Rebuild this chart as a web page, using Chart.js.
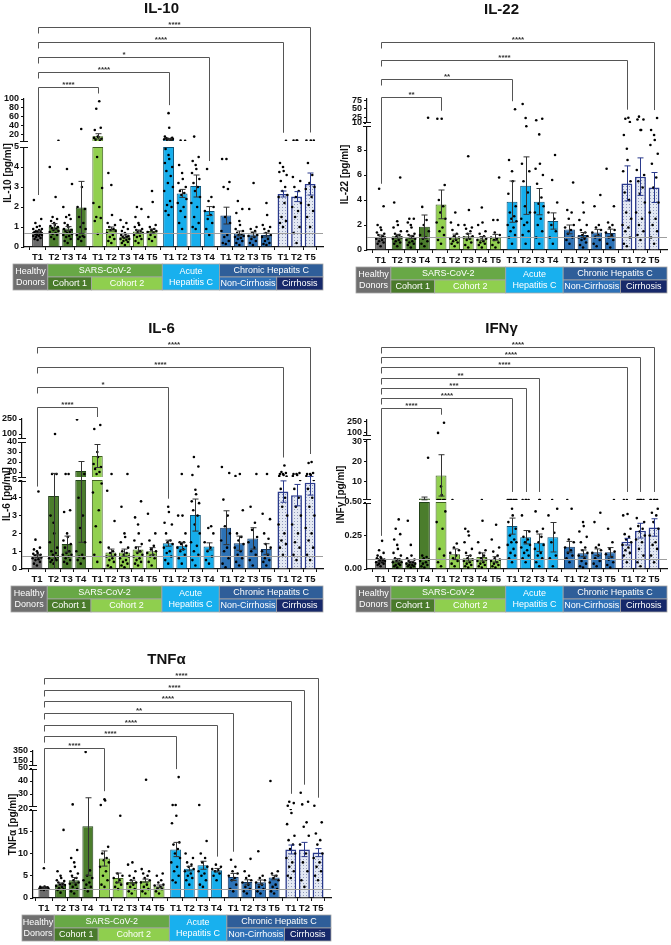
<!DOCTYPE html>
<html>
<head>
<meta charset="utf-8">
<script src="https://cdn.jsdelivr.net/npm/chart.js@4.4.1/dist/chart.umd.min.js"></script>
<style>
  html, body { margin: 0; padding: 0; background: #fff; }
  #page { position: relative; width: 671px; height: 945px; overflow: hidden; }
  #page canvas { position: absolute; }
</style>
</head>
<body>
<div id="page"></div>
<script>
// categories shared by all five panels
const TICK_LABELS = ['T1','T2','T3','T4','T1','T2','T3','T4','T5','T1','T2','T3','T4','T1','T2','T3','T5','T1','T2','T5'];
const GROUP_OF = [0,1,1,1,2,2,2,2,2,3,3,3,3,4,4,4,4,5,5,5];
const BOX_TEXT = {
  hd: ['Healthy', 'Donors'], sars: 'SARS-CoV-2', c1: 'Cohort 1', c2: 'Cohort 2',
  ahc: ['Acute', 'Hepatitis C'], chc: 'Chronic Hepatits C', nonc: 'Non-Cirrhosis', cirr: 'Cirrhosis'
};

// ---- IL-10 ----
const IL10_MEAN = [0.76,1.02,0.92,1.98,15.5,0.9,0.52,0.77,0.8,8.5,2.68,3.05,1.8,1.57,0.68,0.63,0.6,2.65,2.52,3.15];
const IL10_SEM = [0.06,0.15,0.1,1.3,6,0.1,0.07,0.08,0.1,1.5,0.2,0.55,0.22,0.42,0.12,0.12,0.1,0.15,0.25,0.55];
const IL10_DOTS = [
  [0.35,0.4,0.45,0.5,0.55,0.55,0.6,0.6,0.65,0.65,0.7,0.7,0.7,0.75,0.75,0.8,0.8,0.85,0.9,0.9,1.0,1.05,1.2,1.4,2.35],
  [0.4,0.5,0.6,0.65,0.7,0.75,0.8,0.85,0.9,0.95,1.0,1.05,1.1,1.2,1.3,1.4,1.5,2.5,4.0,5.6],
  [0.2,0.3,0.4,0.5,0.55,0.6,0.65,0.7,0.75,0.8,0.85,0.9,1.0,1.1,1.2,1.4,1.5,1.6,2.0,3.15,3.9],
  [0.3,0.4,0.5,0.5,0.55,0.6,0.9,1.0,1.2,1.5,1.9,2.0,3.0,32],
  [0.65,1.3,1.45,1.5,2.0,2.2,2.95,4.5,6,8,10,12,14,15,30,35,78,95],
  [0.2,0.3,0.4,0.5,0.6,0.7,0.8,0.85,0.9,1.0,1.1,1.2,1.6,3.1,3.7],
  [0.1,0.2,0.25,0.3,0.35,0.4,0.4,0.45,0.5,0.5,0.55,0.6,0.65,0.7,0.8,0.9,1.0,1.2,1.35],
  [0.2,0.3,0.4,0.5,0.55,0.6,0.7,0.75,0.8,0.85,0.9,1.0,1.1,1.2,1.5,1.9,2.0],
  [0.3,0.4,0.5,0.6,0.7,0.75,0.8,0.85,0.9,1.0,1.1,1.5,2.25,2.8],
  [1.6,1.8,2.0,2.1,2.3,2.8,3.0,3.2,3.55,3.8,4.0,4.2,4.4,4.6,4.9,6,7,8,9,9.5,10,10,11,12,15,35,68],
  [0.9,1.2,1.5,1.8,2.0,2.2,2.4,2.6,2.7,2.8,3.0,3.2,3.4,3.7,4.1,5.5,5.8],
  [0.9,1.0,1.2,1.5,2.0,2.2,2.5,2.8,3.0,3.2,3.4,3.7,3.9,4.1,4.3,4.5,15],
  [0.6,0.9,1.2,1.4,1.6,1.8,2.0,2.3,2.5,3.9],
  [0.15,0.2,0.3,0.5,0.6,0.8,1.2,1.5,2.9,3.0,3.25,4.4,4.4],
  [0.1,0.2,0.3,0.4,0.45,0.5,0.55,0.6,0.65,0.7,0.8,0.9,1.1,1.3,1.7,1.9,2.3],
  [0.1,0.2,0.3,0.4,0.5,0.55,0.6,0.7,0.8,0.9,1.0,1.9,3.2],
  [0.1,0.15,0.2,0.3,0.4,0.5,0.6,0.7,0.8,0.9,1.0,1.1,1.6,2.2],
  [1.0,1.2,1.3,1.5,2.2,2.5,2.6,2.8,3.0,3.3,3.6,3.75,3.8,4.0,4.2,5.5],
  [0.2,0.7,1.0,1.5,1.8,2.0,2.2,2.5,2.8,3.0,3.3,3.5,5.8,5.8,5.8],
  [1.0,1.5,1.8,2.1,2.5,2.9,3.0,3.2,3.6,4.2,5.8,6.0,6.2]
];
const IL10_REF = 0.72;
const IL10_AXIS = [[0,5],[5,100]];
const IL10_TICKS = [[0,1,2,3,4,5],[20,40,60,80,100]];
const IL10_SIG = [[4,'****'],[9,'****'],[12,'*'],[17,'****'],[19,'****']];

// ---- IL-22 ----
const IL22_MEAN = [1.05,1.1,1.05,1.87,3.65,1.07,1.1,0.93,1.0,3.87,5.15,3.87,2.32,1.65,1.2,1.4,1.37,5.33,5.87,5.0];
const IL22_SEM = [0.15,0.15,0.12,0.93,1.15,0.2,0.2,0.15,0.25,1.65,2.3,1.05,0.65,0.35,0.2,0.25,0.3,1.4,1.5,1.2];
const IL22_DOTS = [
  [0.3,0.5,0.6,0.7,0.8,0.9,1.0,1.0,1.1,1.2,1.3,1.4,1.6,1.8,2.0,3.5,4.9],
  [0.3,0.5,0.6,0.7,0.8,0.9,1.0,1.1,1.2,1.3,1.5,1.8,2.0,2.3,3.8,5.8],
  [0.2,0.4,0.5,0.6,0.7,0.8,0.9,1.0,1.1,1.2,1.3,1.5,1.8,2.0,2.2,2.5,2.5],
  [0.3,0.5,0.7,0.9,1.0,1.2,1.5,2.0,2.4,3.45,25],
  [0.5,0.8,1.2,1.5,1.8,2.2,2.5,3.0,3.5,4.0,5.2,22,22],
  [0.3,0.5,0.6,0.7,0.8,0.9,1.0,1.1,1.3,1.6,2.0,2.2,3.0],
  [0.2,0.4,0.6,0.8,0.9,1.0,1.1,1.3,1.5,1.7,1.8,2.0,3.2,7.5],
  [0.2,0.4,0.5,0.6,0.7,0.8,0.9,1.0,1.1,1.3,1.5,2.0,2.2,3.4],
  [0.2,0.4,0.6,0.8,0.9,1.0,1.2,1.4,2.4,2.4,5.8],
  [0.5,1.0,1.2,1.5,1.8,2.0,2.3,2.5,2.7,3.0,3.5,4.5,5.5,6.3,7.2,49],
  [0.5,1.2,1.5,2.0,2.2,2.5,3.0,3.5,4.6,5.5,6.3,6.9,9.9,24,64],
  [0.5,1.0,1.5,2.0,2.5,3.0,3.5,3.7,4.2,5.3,6.0,6.5,6.9,9.25,18,22],
  [0.5,1.0,1.5,2.0,2.5,3.0,3.8,5.6,7.6],
  [0.5,0.8,1.0,1.3,1.6,1.8,2.0,2.5,3.0,3.2,5.4],
  [0.2,0.4,0.6,0.8,0.9,1.0,1.1,1.2,1.4,1.6,2.0,2.4,3.0,3.8],
  [0.3,0.5,0.8,1.0,1.2,1.4,1.6,1.8,2.0,3.5,4.4],
  [0.2,0.5,0.8,1.0,1.2,1.4,1.6,1.8,2.0,2.2,3.5,6.5],
  [0.3,0.5,1.0,1.5,1.8,2.0,2.5,3.0,4.0,4.6,5.5,6.3,7.2,8.1,9.2,13,22,25],
  [0.8,1.2,1.5,2.0,2.5,3.0,3.8,4.5,5.0,5.5,6.0,6.4,9.6,9.6,20,20,28],
  [0.5,1.0,1.5,2.0,2.5,3.0,3.8,5.0,5.8,6.9,7.7,8.4,8.8,9.2,9.6,24]
];
const IL22_REF = 1.05;
const IL22_AXIS = [[0,10],[10,78]];
const IL22_TICKS = [[0,2,4,6,8],[10,25,50,75]];
const IL22_SIG = [[4,'**'],[9,'**'],[17,'****'],[19,'****']];

// ---- IL-6 ----
const IL6_MEAN = [0.73,4.1,1.4,11,26,0.92,0.92,1.1,1.0,1.45,1.3,3.03,1.27,2.32,1.45,1.72,1.12,4.35,4.15,4.85];
const IL6_SEM = [0.08,4.5,0.45,9.5,11.5,0.2,0.2,0.15,0.2,0.17,0.2,0.9,0.2,0.95,0.4,0.6,0.3,0.6,0.6,0.7];
const IL6_DOTS = [
  [0.2,0.3,0.4,0.5,0.55,0.6,0.65,0.7,0.7,0.75,0.8,0.85,0.9,1.0,1.1,1.2,1.65,4.35],
  [0.3,0.4,0.5,0.5,0.6,0.6,0.7,0.8,0.9,1.0,1.2,1.5,2.0,2.6,3.0,8,8,100],
  [0.3,0.4,0.5,0.6,0.7,0.8,0.8,0.9,1.0,1.2,1.4,1.6,1.8,2.0,3.2,3.3,8,8],
  [0.3,0.5,0.6,0.7,0.8,1.0,1.5,2.3,3.0,4.0,8,245],
  [0.4,0.8,1.5,2.4,3.3,4.3,4.8,8,10,13,15,18,25,30,150,190],
  [0.1,0.2,0.4,0.5,0.6,0.7,0.8,0.9,1.0,1.2,2.7,4.4,8],
  [0.1,0.2,0.3,0.4,0.5,0.6,0.7,0.8,0.9,1.0,1.2,1.5,1.8,2.0,3.5,8],
  [0.2,0.3,0.4,0.5,0.6,0.7,0.8,0.9,1.0,1.2,1.4,1.6,2.0,2.5,2.9,3.8],
  [0.2,0.4,0.6,0.7,0.8,0.9,1.0,1.1,1.3,1.6,2.0,3.1],
  [0.3,0.5,0.7,0.9,1.0,1.2,1.4,1.5,1.6,2.0,2.5,2.6,3.2,3.5],
  [0.3,0.6,0.8,1.0,1.1,1.2,1.3,1.4,1.5,1.5,2.0,3.0,3.0,8],
  [0.2,0.5,0.8,1.0,1.3,1.5,2.0,2.5,3.0,3.3,3.7,3.8,4.2,4.45,7,15.5,25],
  [0.3,0.5,0.7,1.0,1.2,1.5,2.0,2.3,2.4],
  [0.1,0.3,0.6,1.0,1.2,1.6,2.0,2.4,3.0,3.9,9,15],
  [0.2,0.4,0.6,0.8,1.0,1.2,1.4,1.6,1.8,2.0,3.3,6,8],
  [0.2,0.5,0.8,1.0,1.2,1.5,1.8,2.2,2.6,3.5,8],
  [0.2,0.4,0.5,0.6,0.8,1.0,1.2,1.4,1.7,2.0,2.8,3.1,8],
  [0.8,1.2,1.4,1.6,2.0,2.5,3.0,3.5,4.0,4.5,5.5,6,7,8,8,9,10,16.5],
  [0.5,0.8,1.2,1.5,2.0,2.5,3.0,3.5,4.0,4.5,5.0,6,7,8,8,9],
  [0.5,0.8,1.2,1.6,2.0,2.3,3.0,3.5,4.0,4.5,5.0,6,7,8,8,9,19,20]
];
const IL6_REF = 0.73;
const IL6_AXIS = [[0,5],[5,41],[50,250]];
const IL6_TICKS = [[0,1,2,3,4,5],[10,20,30,40],[100,250]];
const IL6_SIG = [[4,'****'],[9,'*'],[17,'****'],[19,'****']];

// ---- IFN-gamma ----
const IFNG_MEAN = [0.062,0.065,0.05,1.3,13,0.11,0.08,0.09,0.072,0.32,0.237,0.196,0.237,0.166,0.117,0.125,0.125,0.204,0.286,0.31];
const IFNG_SEM = [0.008,0.012,0.008,0.7,10.5,0.04,0.02,0.03,0.02,0.06,0.05,0.065,0.11,0.04,0.025,0.025,0.035,0.025,0.055,0.065];
const IFNG_DOTS = [
  [0.02,0.03,0.04,0.04,0.05,0.05,0.06,0.06,0.06,0.07,0.07,0.08,0.08,0.09,0.1,0.12,0.14,0.21],
  [0.01,0.02,0.03,0.03,0.04,0.05,0.05,0.06,0.07,0.08,0.1,0.12,0.15,0.18,0.22,0.26,0.3,0.37],
  [0.01,0.02,0.02,0.03,0.03,0.04,0.04,0.05,0.05,0.06,0.07,0.08,0.1,0.18,0.36],
  [0.01,0.02,0.03,0.04,0.05,0.06,0.07,0.08,0.09,0.1,22],
  [0.02,0.05,0.1,0.15,0.3,0.35,0.43,0.52,0.52,0.52,0.52,0.52,3,7.4,100,230],
  [0.02,0.04,0.06,0.08,0.1,0.12,0.14,0.16,0.19,0.52],
  [0.01,0.02,0.03,0.04,0.05,0.06,0.07,0.08,0.1,0.12,0.15,0.2,0.25,0.28,0.3],
  [0.01,0.02,0.03,0.04,0.05,0.06,0.07,0.08,0.1,0.12,0.14,0.2,0.36,0.52],
  [0.01,0.02,0.03,0.04,0.05,0.06,0.07,0.08,0.1,0.13,0.16,0.22,0.33],
  [0.05,0.08,0.1,0.12,0.15,0.18,0.2,0.2,0.22,0.25,0.3,0.35,0.4,0.45,0.52,0.52,0.52,0.52,0.52,0.52,0.52],
  [0.05,0.08,0.1,0.12,0.14,0.16,0.18,0.2,0.22,0.24,0.28,0.4,0.52,0.52,0.52,0.52],
  [0.02,0.05,0.08,0.1,0.12,0.15,0.18,0.2,0.24,0.28,0.3,0.43,0.52,0.52],
  [0.02,0.08,0.1,0.2,0.27,0.4,0.45,0.52],
  [0.05,0.08,0.1,0.12,0.14,0.16,0.2,0.22,0.45,0.52],
  [0.01,0.02,0.04,0.06,0.08,0.1,0.12,0.14,0.16,0.2,0.24,0.28,0.32,0.35],
  [0.02,0.04,0.06,0.08,0.1,0.12,0.14,0.16,0.18,0.35,0.42],
  [0.01,0.03,0.05,0.07,0.09,0.11,0.13,0.15,0.2,0.3,0.52],
  [0.05,0.1,0.12,0.14,0.16,0.18,0.2,0.22,0.24,0.26,0.3,0.4,0.41,0.52,0.52],
  [0.02,0.05,0.1,0.15,0.2,0.22,0.25,0.28,0.3,0.32,0.35,0.38,0.52,0.52,0.52,0.52,0.52],
  [0.05,0.1,0.15,0.18,0.2,0.25,0.3,0.35,0.4,0.42,0.45,0.52,0.52,0.52,0.52,0.52]
];
const IFNG_REF = 0.072;
const IFNG_AXIS = [[0,0.5],[0.5,32],[60,265]];
const IFNG_TICKS = [[0,0.25,0.5],[10,20,30],[100,250]];
const IFNG_SIG = [[4,'****'],[9,'****'],[10,'***'],[11,'**'],[17,'****'],[18,'****'],[19,'****']];

// ---- TNF-alpha ----
const TNFA_MEAN = [2.34,3.08,4.0,16.1,8.87,4.5,3.6,3.9,2.63,10.9,6.6,7.36,6.24,4.73,3.6,3.55,4.6,10.9,10.9,10.2];
const TNFA_SEM = [0.15,0.3,0.6,11,1.7,1.1,0.4,0.35,0.3,1.6,0.5,0.9,0.4,0.8,0.5,0.5,0.5,1.0,1.6,0.9];
const TNFA_DOTS = [
  [1.8,1.9,2.0,2.0,2.1,2.1,2.2,2.2,2.3,2.3,2.4,2.5,2.6,6.7],
  [1.2,1.8,2.0,2.2,2.5,2.7,2.9,3.0,3.2,3.5,3.8,4.0,4.5,5.0,6.0,15.3],
  [1.0,1.5,2.0,2.5,3.0,3.2,3.5,4.0,4.5,5.0,5.5,6.0,7.0,8.0,9.0,10.8,22],
  [1.5,2.0,2.5,3.0,3.5,4.0,4.5,5.0,6.2,330],
  [2.5,3.0,4.0,5.0,6.0,7.0,8.0,8.5,9.0,10.0,11.5,21.5,25,26],
  [2.0,2.5,3.0,3.5,4.0,4.5,5.0,5.5,18.5],
  [1.0,1.5,2.0,2.5,3.0,3.2,3.5,4.0,4.5,5.0,6.0,7.5,8.0],
  [1.0,1.5,2.0,2.5,3.0,3.5,4.0,4.5,5.0,5.5,6.0,6.5,41],
  [1.0,1.5,2.0,2.2,2.5,2.8,3.0,3.5,4.0,5.0,5.5],
  [3.5,4.0,5.0,6.0,7.0,8.0,9.0,10.0,11.0,12.0,12.5,16.8,18.5,21.5,21.5,43],
  [3.0,4.0,4.5,5.0,5.5,6.0,6.5,7.0,7.5,8.0,9.0,10.0],
  [2.5,3.0,4.0,5.0,5.5,6.0,7.0,8.0,9.0,10.0,12.8,21.5],
  [4.0,5.0,5.5,6.0,6.3,6.5,7.0,7.5],
  [1.5,2.0,3.0,4.0,4.5,5.0,5.5,6.0,7.0,8.6],
  [1.0,1.5,2.0,2.5,3.0,3.5,4.0,4.5,5.0,6.0,8.8],
  [1.0,1.5,2.0,2.5,3.0,3.5,4.0,4.5,5.0,10.5],
  [1.0,1.5,2.0,2.5,3.0,3.5,4.0,4.5,5.0,5.5,6.0,40],
  [4.5,5.0,6.0,7.0,8.0,9.0,10.0,11.0,12.0,13.0,14.0,16.6,19.1,20.0,21.0,23,24],
  [2.5,4.0,6.0,8.0,10.0,12.0,14.0,16.0,17.0,22.0,24,31],
  [4.0,5.0,6.0,7.0,8.0,9.0,10.0,12.0,13.0,14.5,17.0,21]
];
const TNFA_REF = 2.1;
const TNFA_AXIS = [[0,20],[20,50],[50,350]];
const TNFA_TICKS = [[0,5,10,15,20],[30,40,50],[150,350]];
const TNFA_SIG = [[4,'****'],[9,'****'],[12,'****'],[13,'**'],[17,'****'],[18,'****'],[19,'****']];

// colours
const BAR_FILL = ['#6c6c6c', '#4b7d2c', '#92d050', '#16aeec', '#2c72b6', null];
const BAR_EDGE = ['#2a2a2a', '#22421a', '#3f5f20', '#0b5378', '#123560', '#2a3a8c'];
const BOX_FILL = { hd: '#6f6f6f', sars: '#68a846', c1: '#4a7b2b', c2: '#8fcf4e', ahc: '#18b0ee', chc: '#2f5e99', nonc: '#2f70b6', cirr: '#17296a' };

const GAP = 0.22; // extra space between groups, in bar slots
const POS = GROUP_OF.map((g, i) => i + GAP * g);
const JITTER = [0, -0.22, 0.22, -0.11, 0.11, -0.32, 0.32, -0.05, 0.16, -0.16, 0.27, -0.27, 0.05];
const FONT = '"Liberation Sans", Arial, sans-serif';

Chart.defaults.font.family = FONT;
Chart.defaults.color = '#111';

function cirrPattern() {
  const c = document.createElement('canvas');
  c.width = 3; c.height = 3;
  const g = c.getContext('2d');
  g.fillStyle = '#e3e8f2';
  g.fillRect(0, 0, 3, 3);
  g.fillStyle = '#9099ba';
  g.fillRect(0, 0, 1, 1);
  return g.createPattern(c, 'repeat');
}
const CIRR_PATTERN = cirrPattern();

function yPix(chart, p, v) {
  const n = p.axis.length;
  for (let s = 0; s < n; s++) {
    const [lo, hi] = p.axis[s];
    if (v <= hi || s === n - 1) {
      return chart.scales['y' + s].getPixelForValue(Math.min(Math.max(v, lo), hi));
    }
  }
}

function segOf(p, v) {
  for (let s = 0; s < p.axis.length; s++) {
    if (v <= p.axis[s][1]) return s;
  }
  return p.axis.length - 1;
}

function makeChart(p) {
  const cv = document.createElement('canvas');
  cv.width = p.box.w;
  cv.height = p.box.h;
  cv.style.left = p.box.x + 'px';
  cv.style.top = p.box.y + 'px';
  document.getElementById('page').appendChild(cv);

  const n = p.axis.length;
  const xMax = POS[POS.length - 1] + 0.95;

  const scales = {
    x: {
      type: 'linear', min: p.xMin, max: xMax, offset: false,
      afterBuildTicks: sc => { sc.ticks = POS.map(v => ({ value: v })); },
      afterFit: sc => { sc.height = p.box.h - p.area.b; },
      ticks: { autoSkip: false, maxRotation: 0, padding: 2, font: { size: 9.5, weight: 'bold' },
               callback: (v, i) => TICK_LABELS[i] },
      grid: { drawOnChartArea: false, tickLength: 3, color: '#111' },
      border: { color: '#111', width: 1.2 }
    }
  };
  for (let s = 0; s < n; s++) {
    if (s > 0) {
      scales['g' + s] = {
        type: 'linear', position: 'left', stack: 'y', stackWeight: p.gaps[s - 1], min: 0, max: 1,
        afterFit: sc => { sc.width = p.area.l; },
        ticks: { display: false }, grid: { display: false }, border: { display: false }
      };
    }
    const ticks = p.ticks[s];
    scales['y' + s] = {
      type: 'linear', position: 'left', stack: 'y', stackWeight: p.segPx[s],
      min: p.axis[s][0], max: p.axis[s][1],
      afterBuildTicks: sc => { sc.ticks = ticks.map(v => ({ value: v })); },
      afterFit: sc => { sc.width = p.area.l; },
      ticks: { autoSkip: false, padding: 2, font: { size: 9, weight: 'bold' },
               callback: v => v.toFixed(p.decimals[s]) },
      grid: { drawOnChartArea: false, tickLength: 3, color: '#111' },
      border: { color: '#111', width: 1.2 }
    };
  }

  const fill = ctx => GROUP_OF[ctx.dataIndex] === 5 ? CIRR_PATTERN : BAR_FILL[GROUP_OF[ctx.dataIndex]];
  const edge = ctx => BAR_EDGE[GROUP_OF[ctx.dataIndex]];

  const datasets = [];
  for (let s = 0; s < n; s++) {
    const [lo, hi] = p.axis[s];
    datasets.push({
      type: 'bar', yAxisID: 'y' + s, order: 2, grouped: false,
      data: p.mean.map((m, i) => ({ x: POS[i], y: m > lo ? [lo, Math.min(m, hi)] : null })),
      backgroundColor: fill, borderColor: edge,
      borderWidth: ctx => GROUP_OF[ctx.dataIndex] === 5 ? 1.6 : 1,
      borderSkipped: 'start', barPercentage: 0.8, categoryPercentage: 1
    });
  }
  const dotSets = p.axis.map(() => []);
  p.dots.forEach((vals, i) => {
    vals.slice().sort((a, b) => a - b).forEach((v, k) => {
      dotSets[segOf(p, v)].push({ x: POS[i] + JITTER[k % JITTER.length], y: v });
    });
  });
  dotSets.forEach((d, s) => datasets.push({
    type: 'scatter', yAxisID: 'y' + s, order: 1, data: d,
    pointRadius: 1.3, pointBackgroundColor: '#000', pointBorderWidth: 0
  }));

  const deco = {
    id: 'deco',
    afterDatasetsDraw(chart) {
      const ctx = chart.ctx, a = chart.chartArea, xs = chart.scales.x;
      ctx.save();
      // healthy donor reference line
      const ry = Math.round(yPix(chart, p, p.ref)) + 0.5;
      ctx.strokeStyle = '#9e9e9e';
      ctx.lineWidth = 1;
      ctx.beginPath();
      ctx.moveTo(a.left, ry);
      ctx.lineTo(a.right, ry);
      ctx.stroke();
      // mean +/- SEM
      p.mean.forEach((m, i) => {
        const x = Math.round(xs.getPixelForValue(POS[i])) + 0.5;
        const lowV = m - p.sem[i];
        const yt = yPix(chart, p, m + p.sem[i]);
        const yb = yPix(chart, p, Math.max(0, lowV));
        ctx.strokeStyle = GROUP_OF[i] === 5 ? '#2a3a8c' : '#333';
        ctx.beginPath();
        ctx.moveTo(x, yb); ctx.lineTo(x, yt);
        ctx.moveTo(x - 3, yt); ctx.lineTo(x + 3, yt);
        if (lowV > 0) { ctx.moveTo(x - 3, yb); ctx.lineTo(x + 3, yb); }
        ctx.stroke();
      });
      ctx.restore();
    },
    afterDraw(chart) {
      const ctx = chart.ctx, a = chart.chartArea, xs = chart.scales.x;
      const xp = v => xs.getPixelForValue(v);
      ctx.save();
      // y axis title, centred on the whole broken axis
      ctx.save();
      ctx.translate(p.yTitlePad + 6, (a.top + a.bottom) / 2);
      ctx.rotate(-Math.PI / 2);
      ctx.fillStyle = '#111';
      ctx.font = 'bold 10px ' + FONT;
      ctx.textAlign = 'center';
      ctx.textBaseline = 'middle';
      ctx.fillText(p.yTitle, 0, 0);
      ctx.restore();
      // axis break marks: a thin "=" across the axis at every junction
      ctx.strokeStyle = '#111';
      ctx.lineWidth = 1;
      for (let s = 0; s < n - 1; s++) {
        const lowTop = chart.scales['y' + s].top;
        const upBottom = chart.scales['y' + (s + 1)].bottom;
        const c = (lowTop + upBottom) / 2;
        const half = Math.max(2, (lowTop - upBottom) / 2);
        ctx.clearRect(a.left - 1.5, c - half + 0.5, 3, 2 * half - 1);
        [c - half, c + half].forEach(y => {
          const yy = Math.round(y) + 0.5;
          ctx.beginPath();
          ctx.moveTo(a.left - 4, yy);
          ctx.lineTo(a.left + 4, yy);
          ctx.stroke();
        });
      }
      // significance brackets
      const nb = p.sig.length;
      ctx.strokeStyle = '#555';
      ctx.lineWidth = 1;
      ctx.fillStyle = '#333';
      ctx.font = 'bold 8px ' + FONT;
      ctx.textAlign = 'center';
      ctx.textBaseline = 'alphabetic';
      p.sig.forEach(([target, stars], k) => {
        const lvl = Math.round(p.brBottom - (p.brBottom - p.brTop) * k / (nb - 1)) + 0.5;
        const x1 = Math.round(xp(POS[0])) + 0.5;
        const x2 = Math.round(xp(POS[target])) + 0.5;
        const leftEnd = k === 0 ? yPix(chart, p, Math.max(...p.dots[0])) - 5 : lvl + 6;
        const rightEnd = Math.max(lvl + 6, yPix(chart, p, Math.max(...p.dots[target])) - 8);
        ctx.beginPath();
        ctx.moveTo(x1, leftEnd);
        ctx.lineTo(x1, lvl);
        ctx.lineTo(x2, lvl);
        ctx.lineTo(x2, rightEnd);
        ctx.stroke();
        ctx.fillText(stars, (x1 + x2) / 2, lvl - 1);
      });
      // group label boxes
      const t = a.bottom + 17, m = a.bottom + 30, b = a.bottom + 43;
      const L = a.left - 11, R = a.right;
      const bx = g => (xp(POS[GROUP_OF.lastIndexOf(g - 1)]) + xp(POS[GROUP_OF.indexOf(g)])) / 2 + 2;
      const boxes = [
        [L, bx(1), t, b, 'hd'], [bx(1), bx(3), t, m, 'sars'], [bx(1), bx(2), m, b, 'c1'],
        [bx(2), bx(3), m, b, 'c2'], [bx(3), bx(4), t, b, 'ahc'], [bx(4), R, t, m, 'chc'],
        [bx(4), bx(5), m, b, 'nonc'], [bx(5), R, m, b, 'cirr']
      ];
      ctx.font = '9px ' + FONT;
      ctx.textBaseline = 'middle';
      boxes.forEach(([x0, x1, y0, y1, key]) => {
        ctx.fillStyle = BOX_FILL[key];
        ctx.fillRect(x0, y0, x1 - x0, y1 - y0);
        ctx.strokeStyle = '#a5a5a5';
        ctx.lineWidth = 0.8;
        ctx.strokeRect(x0, y0, x1 - x0, y1 - y0);
        ctx.fillStyle = '#fff';
        const txt = BOX_TEXT[key];
        const cx = (x0 + x1) / 2, cy = (y0 + y1) / 2;
        if (Array.isArray(txt)) {
          ctx.fillText(txt[0], cx, cy - 5.5);
          ctx.fillText(txt[1], cx, cy + 5.5);
        } else {
          ctx.fillText(txt, cx, cy + 0.5);
        }
      });
      ctx.restore();
    }
  };

  return new Chart(cv, {
    type: 'bar',
    data: { datasets },
    options: {
      responsive: false, animation: false, events: [],
      layout: { padding: { left: 0, right: p.box.w - p.area.r, top: 0, bottom: 0 } },
      plugins: {
        legend: { display: false },
        tooltip: { enabled: false },
        title: { display: true, text: p.name, color: '#111', font: { size: 15, weight: 'bold' },
                 padding: { top: p.titleTop, bottom: p.area.t - p.titleTop - 18 } }
      },
      scales
    },
    plugins: [deco]
  });
}

const PANELS = [
  { name: 'IL-10', yTitle: 'IL-10 [pg/ml]', mean: IL10_MEAN, sem: IL10_SEM, dots: IL10_DOTS, ref: IL10_REF,
    axis: IL10_AXIS, ticks: IL10_TICKS, sig: IL10_SIG, decimals: [0, 0],
    box: { x: 0, y: 0, w: 335, h: 300 }, area: { l: 24, r: 323, t: 99, b: 247 },
    segPx: [100, 42], gaps: [6], titleTop: 0, brTop: 27, brBottom: 87, xMin: -1, yTitlePad: 2 },
  { name: 'IL-22', yTitle: 'IL-22 [pg/ml]', mean: IL22_MEAN, sem: IL22_SEM, dots: IL22_DOTS, ref: IL22_REF,
    axis: IL22_AXIS, ticks: IL22_TICKS, sig: IL22_SIG, decimals: [0, 0],
    box: { x: 335, y: 0, w: 336, h: 300 }, area: { l: 32, r: 333, t: 99, b: 250 },
    segPx: [125, 24], gaps: [2], titleTop: 1, brTop: 42, brBottom: 97, xMin: -1, yTitlePad: 4 },
  { name: 'IL-6', yTitle: 'IL-6 [pg/ml]', mean: IL6_MEAN, sem: IL6_SEM, dots: IL6_DOTS, ref: IL6_REF,
    axis: IL6_AXIS, ticks: IL6_TICKS, sig: IL6_SIG, decimals: [0, 0, 0],
    box: { x: 0, y: 320, w: 335, h: 300 }, area: { l: 22, r: 323, t: 99, b: 249 },
    segPx: [89, 36, 20], gaps: [3, 2], titleTop: 0, brTop: 27, brBottom: 87, xMin: -1.1, yTitlePad: 1 },
  { name: 'IFNγ', yTitle: 'INFγ [pg/ml]', mean: IFNG_MEAN, sem: IFNG_SEM, dots: IFNG_DOTS, ref: IFNG_REF,
    axis: IFNG_AXIS, ticks: IFNG_TICKS, sig: IFNG_SIG, decimals: [2, 0, 0],
    box: { x: 335, y: 320, w: 336, h: 300 }, area: { l: 32, r: 333, t: 100, b: 249 },
    segPx: [67, 62, 16], gaps: [2, 2], titleTop: 0, brTop: 27, brBottom: 88, xMin: -1, yTitlePad: 0 },
  { name: 'TNFα', yTitle: 'TNFα [pg/ml]', mean: TNFA_MEAN, sem: TNFA_SEM, dots: TNFA_DOTS, ref: TNFA_REF,
    axis: TNFA_AXIS, ticks: TNFA_TICKS, sig: TNFA_SIG, decimals: [0, 0, 0],
    box: { x: 0, y: 640, w: 335, h: 305 }, area: { l: 33, r: 333, t: 111, b: 258 },
    segPx: [89, 39, 15], gaps: [2, 2], titleTop: 11, brTop: 38, brBottom: 108, xMin: -0.8, yTitlePad: 7 }
];

PANELS.forEach(makeChart);
</script>
</body>
</html>
